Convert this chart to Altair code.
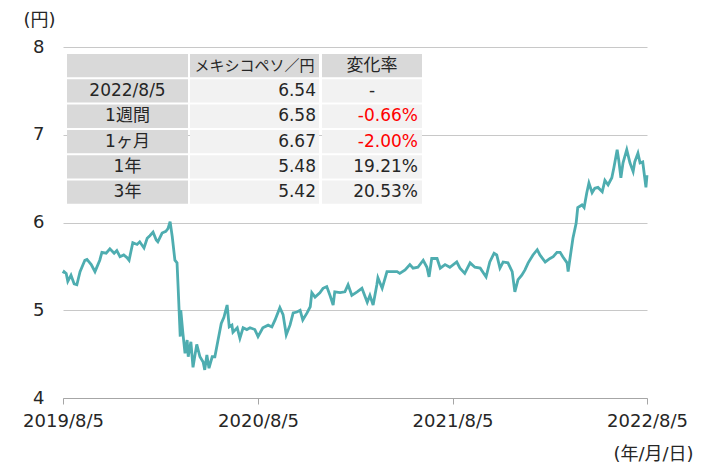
import altair as alt
import pandas as pd

# ---- data: MXN/JPY rate ----
dates = ["2019-08-05","2019-08-07","2019-08-11","2019-08-14","2019-08-20","2019-08-26","2019-08-31","2019-09-06","2019-09-15","2019-09-19",
         "2019-09-27","2019-10-04","2019-10-13","2019-10-17","2019-10-25","2019-11-01","2019-11-09","2019-11-14","2019-11-20","2019-11-27",
         "2019-12-03","2019-12-07","2019-12-14","2019-12-22","2019-12-27","2020-01-04","2020-01-10","2020-01-15","2020-01-21","2020-01-27",
         "2020-01-30","2020-02-07","2020-02-14","2020-02-18","2020-02-22","2020-02-26","2020-03-02","2020-03-06","2020-03-08","2020-03-12",
         "2020-03-13","2020-03-17","2020-03-21","2020-03-25","2020-03-27","2020-04-01","2020-04-05","2020-04-09","2020-04-12","2020-04-18",
         "2020-04-24","2020-04-27","2020-05-01","2020-05-05","2020-05-11","2020-05-16","2020-05-22","2020-05-28","2020-06-02","2020-06-08",
         "2020-06-12","2020-06-17","2020-06-19","2020-06-27","2020-07-02","2020-07-08","2020-07-15","2020-07-21","2020-07-30","2020-08-05",
         "2020-08-14","2020-08-24","2020-08-31","2020-09-06","2020-09-15","2020-09-21","2020-09-27","2020-10-04","2020-10-10","2020-10-17",
         "2020-10-23","2020-10-28","2020-11-05","2020-11-11","2020-11-14","2020-11-20","2020-11-29","2020-12-05","2020-12-12","2020-12-18",
         "2020-12-24","2020-12-27","2021-01-06","2021-01-15","2021-01-21","2021-01-28","2021-02-07","2021-02-16","2021-02-26","2021-03-03",
         "2021-03-09","2021-03-16","2021-03-18","2021-03-26","2021-04-04","2021-04-13","2021-04-23","2021-04-28","2021-05-08","2021-05-17",
         "2021-05-23","2021-06-01","2021-06-11","2021-06-18","2021-06-22","2021-06-27","2021-07-07","2021-07-13","2021-07-22","2021-07-31",
         "2021-08-13","2021-08-19","2021-08-28","2021-09-07","2021-09-16","2021-09-26","2021-10-07","2021-10-14","2021-10-22","2021-10-27",
         "2021-11-02","2021-11-08","2021-11-17","2021-11-25","2021-11-30","2021-12-06","2021-12-13","2021-12-19","2021-12-25","2022-01-03",
         "2022-01-11","2022-01-16","2022-01-26","2022-02-04","2022-02-10","2022-02-17","2022-02-23","2022-02-28","2022-03-08","2022-03-10",
         "2022-03-13","2022-03-19","2022-03-25","2022-03-28","2022-04-05","2022-04-09","2022-04-14","2022-04-18","2022-04-24","2022-04-29",
         "2022-05-05","2022-05-13","2022-05-18","2022-05-24","2022-05-31","2022-06-04","2022-06-10","2022-06-13","2022-06-17","2022-06-21",
         "2022-06-28","2022-07-04","2022-07-10","2022-07-13","2022-07-19","2022-07-23","2022-07-28","2022-08-03","2022-08-05"]

rates = [5.42, 5.44, 5.42, 5.33, 5.40, 5.30, 5.29, 5.44, 5.57, 5.58,
         5.52, 5.44, 5.57, 5.66, 5.65, 5.70, 5.65, 5.68, 5.61, 5.63,
         5.60, 5.57, 5.77, 5.75, 5.78, 5.71, 5.82, 5.85, 5.89, 5.80,
         5.78, 5.88, 5.90, 5.93, 6.01, 5.84, 5.57, 5.54, 5.27, 4.70,
         5.00, 4.74, 4.51, 4.66, 4.47, 4.64, 4.35, 4.50, 4.61, 4.47,
         4.41, 4.32, 4.49, 4.34, 4.47, 4.47, 4.66, 4.85, 4.92, 5.06,
         4.81, 4.83, 4.75, 4.80, 4.68, 4.80, 4.78, 4.80, 4.78, 4.70,
         4.80, 4.83, 4.81, 4.89, 5.03, 4.95, 4.72, 4.83, 4.97, 4.98,
         5.00, 4.89, 4.97, 5.04, 5.20, 5.15, 5.20, 5.25, 5.27, 5.17,
         5.06, 5.21, 5.20, 5.21, 5.29, 5.17, 5.21, 5.25, 5.09, 5.17,
         5.06, 5.29, 5.37, 5.25, 5.44, 5.44, 5.44, 5.42, 5.46, 5.52,
         5.48, 5.49, 5.57, 5.49, 5.38, 5.59, 5.59, 5.48, 5.52, 5.49,
         5.55, 5.48, 5.42, 5.54, 5.49, 5.48, 5.38, 5.55, 5.65, 5.63,
         5.48, 5.55, 5.54, 5.44, 5.21, 5.35, 5.40, 5.46, 5.54, 5.63,
         5.69, 5.63, 5.55, 5.59, 5.61, 5.66, 5.66, 5.61, 5.54, 5.44,
         5.57, 5.82, 5.99, 6.17, 6.20, 6.17, 6.34, 6.45, 6.34, 6.39,
         6.40, 6.35, 6.48, 6.43, 6.51, 6.63, 6.83, 6.71, 6.51, 6.68,
         6.83, 6.68, 6.58, 6.69, 6.79, 6.68, 6.69, 6.40, 6.54]

tick_years = [2019, 2020, 2021, 2022]
y_ticks = [4, 5, 6, 7, 8]

# ---- table contents ----
table_headers = ["", "メキシコペソ／円", "変化率"]
table_labels = ["2022/8/5", "1週間", "1ヶ月", "1年", "3年"]
table_values = ["6.54", "6.58", "6.67", "5.48", "5.42"]
table_changes = ["-", "-0.66%", "-2.00%", "19.21%", "20.53%"]

FONT = "DejaVu Sans, Noto Sans CJK JP"
TXT = "#262626"
W, H = 584, 351

df = pd.DataFrame({"date": dates, "rate": rates})

x_dom = [alt.DateTime(year=2019, month=8, date=5, utc=True),
         alt.DateTime(year=2022, month=8, date=5, utc=True)]
tick_vals = [alt.DateTime(year=y, month=8, date=5, utc=True) for y in tick_years]

line = alt.Chart(df).mark_line(color="#4EADB0", strokeWidth=2.8).encode(
    x=alt.X("date:T",
            scale=alt.Scale(type="utc", domain=x_dom),
            axis=alt.Axis(values=tick_vals,
                          labelExpr="utcFormat(datum.value, '%Y/%-m/%-d')",
                          grid=False, domainColor="#a6a6a6", tickColor="#a6a6a6",
                          tickSize=6, labelPadding=8, labelFontSize=18, labelColor=TXT,
                          labelFont=FONT, labelFlush=False, labelOverlap=False,
                          title="(年/月/日)", titleX=590, titleY=56, titleAlign="center",
                          titleBaseline="middle", titleFontSize=18, titleFontWeight="normal",
                          titleColor=TXT, titleFont=FONT, titleAngle=0)),
    y=alt.Y("rate:Q",
            scale=alt.Scale(domain=[4, 8], nice=False, zero=False),
            axis=alt.Axis(values=y_ticks, grid=True, gridColor="#c8c8c8", gridWidth=1,
                          domain=False, ticks=False, tickSize=0, labelPadding=19,
                          labelFontSize=18, labelColor=TXT, labelFont=FONT,
                          title="(円)", titleAngle=0, titleX=-24, titleY=-27,
                          titleAlign="center", titleBaseline="middle", titleFontSize=18,
                          titleFontWeight="normal", titleColor=TXT, titleFont=FONT)),
)

# ---- table layout (pixels inside plot area) ----
col_edges = [(4, 125), (127, 256), (259, 359)]
row_top0, row_step, row_h = 7, 25.3, 23.3

cells = []
for r in range(6):
    top = row_top0 + r * row_step
    for c, (x0, x1) in enumerate(col_edges):
        fill = "#d9d9d9" if (r == 0 or c == 0) else "#f2f2f2"
        cells.append({"x": x0, "x2": x1, "y": top, "y2": top + row_h, "fill": fill})
cells_df = pd.DataFrame(cells)

rects = alt.Chart(cells_df).mark_rect().encode(
    x=alt.X("x:Q", scale=None, axis=None),
    x2="x2:Q",
    y=alt.Y("y:Q", scale=None, axis=None),
    y2="y2:Q",
    color=alt.Color("fill:N", scale=None, legend=None),
)

rows = []
for i in range(5):
    yc = row_top0 + (i + 1) * row_step + row_h / 2
    ch = table_changes[i]
    rows.append({"yc": yc, "label": table_labels[i], "value": table_values[i],
                 "change": ch, "ccol": "#ff0000" if ch.startswith("-") and ch != "-" else TXT})
rows_df = pd.DataFrame(rows)
head_y = row_top0 + row_h / 2

def txt(data, field, xpix, align, size=17, color=None):
    enc = dict(x=alt.value(xpix), y=alt.Y("yc:Q", scale=None, axis=None), text=f"{field}:N")
    if color:
        enc["color"] = alt.Color(f"{color}:N", scale=None, legend=None)
    mark = alt.Chart(data).mark_text(align=align, baseline="middle", fontSize=size,
                                     font=FONT, color=TXT)
    return mark.encode(**enc)

head_df = pd.DataFrame({"yc": [head_y], "h1": [table_headers[1]], "h2": [table_headers[2]]})
labels_t = txt(rows_df, "label", 64.5, "center")
values_t = txt(rows_df, "value", 253, "right")
change_t = txt(rows_df[rows_df["change"] != "-"], "change", 355, "right", color="ccol")
dash_t = txt(rows_df[rows_df["change"] == "-"], "change", 309, "center")
h1_t = txt(head_df, "h1", 191.5, "center", size=15)
h2_t = txt(head_df, "h2", 309, "center", size=17)

chart = alt.layer(line, rects, labels_t, values_t, change_t, dash_t, h1_t, h2_t).properties(
    width=W, height=H,
    autosize=alt.AutoSizeParams(type="none"),
    padding={"left": 55, "top": 39, "right": 53, "bottom": 70},
    background="white",
).configure_view(stroke=None)

chart.save("out.html", embed_options={"renderer": "svg", "actions": False})
